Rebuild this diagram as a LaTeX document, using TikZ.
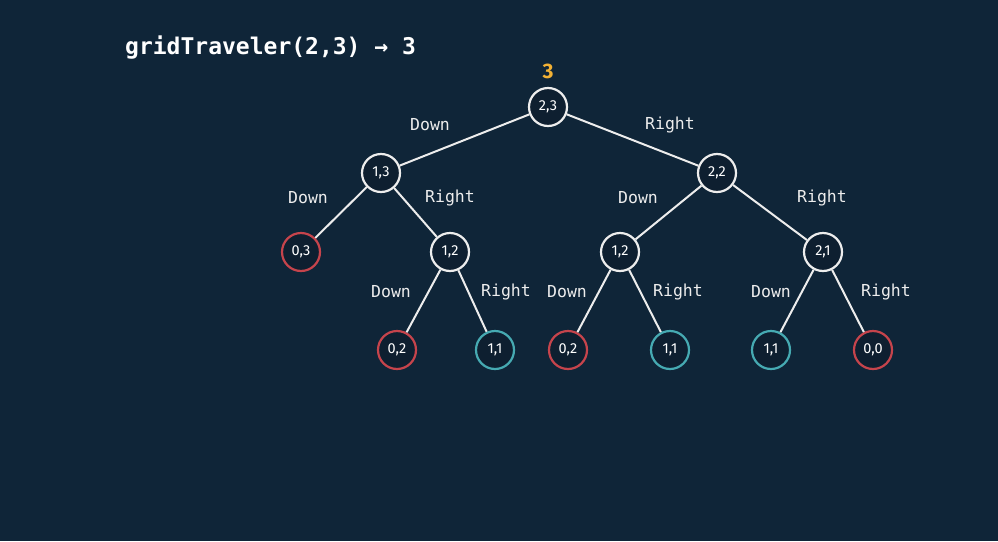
\documentclass[tikz,border=0pt]{standalone}
\usepackage{fontspec}
\setmainfont{Fira Sans}
\newfontfamily\monof{DejaVu Sans Mono}
\definecolor{bg}{HTML}{0F2538}
\definecolor{nodefill}{HTML}{0E1F30}
\definecolor{redc}{HTML}{C6444C}
\definecolor{tealc}{HTML}{46AAB2}
\definecolor{orangec}{HTML}{F2B134}
\definecolor{linec}{HTML}{EDEDED}
\tikzset{
  tn/.style={circle, draw=linec, line width=2.2pt, fill=nodefill, minimum size=38pt, inner sep=0pt, text=white, font=\fontsize{14.5}{14.5}\selectfont},
  rn/.style={tn, draw=redc},
  cn/.style={tn, draw=tealc},
  edge/.style={draw=linec, line width=2pt},
  lbl/.style={text=linec, font=\monof\fontsize{16.5}{16.5}\selectfont, inner sep=0pt},
}
\begin{document}
\begin{tikzpicture}[x=1pt,y=-1pt]
\fill[bg] (0,0) rectangle (998,541);
\useasboundingbox (0,0) rectangle (998,541);
\node[anchor=west, text=white, font=\monof\bfseries\fontsize{23}{23}\selectfont, inner sep=0pt] (title) at (125,48) {gridTraveler(2,3) → 3};
\node[tn] (r) at (548,107) {2,3};
\node[text=orangec, font=\bfseries\fontsize{21}{21}\selectfont, inner sep=0pt] (res) at (548,71) {3};
\node[tn] (a) at (381,173) {1,3};
\node[tn] (b) at (717,173) {2,2};
\node[rn] (a1) at (301,252) {0,3};
\node[tn] (a2) at (450,252) {1,2};
\node[tn] (b1) at (620,252) {1,2};
\node[tn] (b2) at (823,252) {2,1};
\node[rn] (a21) at (397,350) {0,2};
\node[cn] (a22) at (495,350) {1,1};
\node[rn] (b11) at (568,350) {0,2};
\node[cn] (b12) at (670,350) {1,1};
\node[cn] (b21) at (771,350) {1,1};
\node[rn] (b22) at (873,350) {0,0};
\path[edge] (r) -- (a);
\path[edge] (r) -- (b);
\path[edge] (a) -- (a1);
\path[edge] (a) -- (a2);
\path[edge] (b) -- (b1);
\path[edge] (b) -- (b2);
\path[edge] (a2) -- (a21);
\path[edge] (a2) -- (a22);
\path[edge] (b1) -- (b11);
\path[edge] (b1) -- (b12);
\path[edge] (b2) -- (b21);
\path[edge] (b2) -- (b22);
\node[lbl] (l1) at (430,125) {Down};
\node[lbl] (l2) at (670,125) {Right};
\node[lbl] (l3) at (308,198) {Down};
\node[lbl] (l4) at (450,198) {Right};
\node[lbl] (l5) at (638,198) {Down};
\node[lbl] (l6) at (822,198) {Right};
\node[lbl] (l7) at (391,292) {Down};
\node[lbl] (l8) at (506,292) {Right};
\node[lbl] (l9) at (567,292) {Down};
\node[lbl] (l10) at (678,292) {Right};
\node[lbl] (l11) at (771,292) {Down};
\node[lbl] (l12) at (886,292) {Right};
\end{tikzpicture}
\end{document}
